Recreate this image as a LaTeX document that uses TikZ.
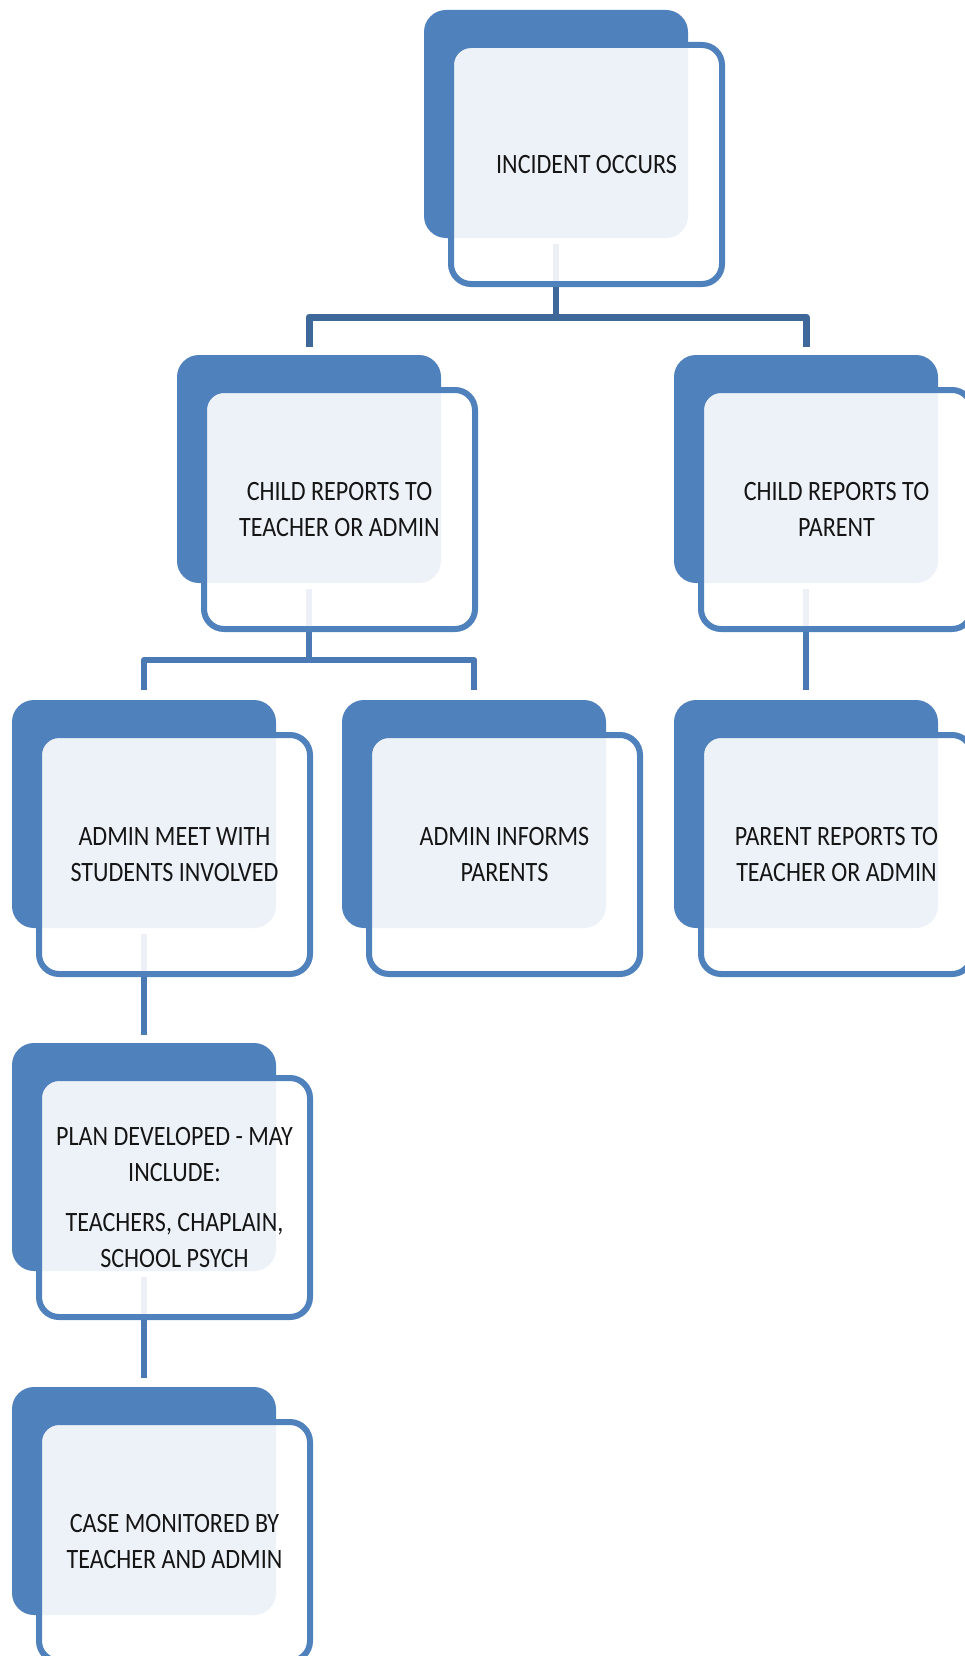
\documentclass[tikz,border=0pt]{standalone}
\usepackage{fontspec}
\newfontfamily\boxfont[FakeStretch=0.86]{Carlito}
\definecolor{boxblue}{HTML}{4F81BD}
\definecolor{conndark}{HTML}{3E6899}
\definecolor{connmid}{HTML}{4A79B4}
\definecolor{txt}{HTML}{151515}
\begin{document}
\begin{tikzpicture}[x=1pt,y=-1pt,
  backbox/.style={rectangle, rounded corners=22pt, fill=boxblue, minimum width=264pt, minimum height=228pt, inner sep=0pt, outer sep=0pt},
  frontbox/.style={rectangle, rounded corners=20pt, draw=boxblue, line width=6pt, fill=white, fill opacity=0.9, draw opacity=1, text opacity=1, minimum width=271pt, minimum height=239pt, inner sep=0pt, outer sep=0pt, align=center, text=txt, font=\boxfont\fontsize{28}{36}\selectfont},
  topconn/.style={draw=conndark, line width=5.5pt},
  topbar/.style={draw=conndark, line width=7pt, line join=round},
  midconn/.style={draw=connmid, line width=6pt, line join=round}]
\fill[white] (0,0) rectangle (965,1656);
\useasboundingbox (0,0) rectangle (965,1656);
% back boxes
\node[backbox] (bA) at (556,124) {};
\node[backbox] (bB) at (309,469) {};
\node[backbox] (bC) at (806,469) {};
\node[backbox] (bD) at (144,814) {};
\node[backbox] (bE) at (474,814) {};
\node[backbox] (bF) at (806,814) {};
\node[backbox] (bG) at (144,1157) {};
\node[backbox] (bH) at (144,1501) {};
% connectors
\coordinate (j1) at (556,317);
\coordinate (j2) at (309,660);
\draw[topconn] ([yshift=-6pt]bA.south) -- (j1);
\draw[topbar] ([yshift=8pt]bB.north) |- (j1) -| ([yshift=8pt]bC.north);
\draw[midconn] ([yshift=-6pt]bB.south) -- (j2);
\draw[midconn] ([yshift=10pt]bD.north) |- (j2) -| ([yshift=10pt]bE.north);
\draw[midconn] ([yshift=-6pt]bC.south) -- ([yshift=10pt]bF.north);
\draw[midconn] ([yshift=-6pt]bD.south) -- ([yshift=8pt]bG.north);
\draw[midconn] ([yshift=-6pt]bG.south) -- ([yshift=9pt]bH.north);
% front boxes
\node[frontbox] (fA) at (586.5,164.5) {INCIDENT OCCURS};
\node[frontbox] (fB) at (339.5,509.5) {CHILD REPORTS TO\\TEACHER OR ADMIN};
\node[frontbox] (fC) at (836.5,509.5) {CHILD REPORTS TO\\PARENT};
\node[frontbox] (fD) at (174.5,854.5) {ADMIN MEET WITH\\STUDENTS INVOLVED};
\node[frontbox] (fE) at (504.5,854.5) {ADMIN INFORMS\\PARENTS};
\node[frontbox] (fF) at (836.5,854.5) {PARENT REPORTS TO\\TEACHER OR ADMIN};
\node[frontbox] (fG) at (174.5,1197.5) {PLAN DEVELOPED - MAY\\INCLUDE:\\[14pt]TEACHERS, CHAPLAIN,\\SCHOOL PSYCH};
\node[frontbox] (fH) at (174.5,1541.5) {CASE MONITORED BY\\TEACHER AND ADMIN};
\end{tikzpicture}
\end{document}
